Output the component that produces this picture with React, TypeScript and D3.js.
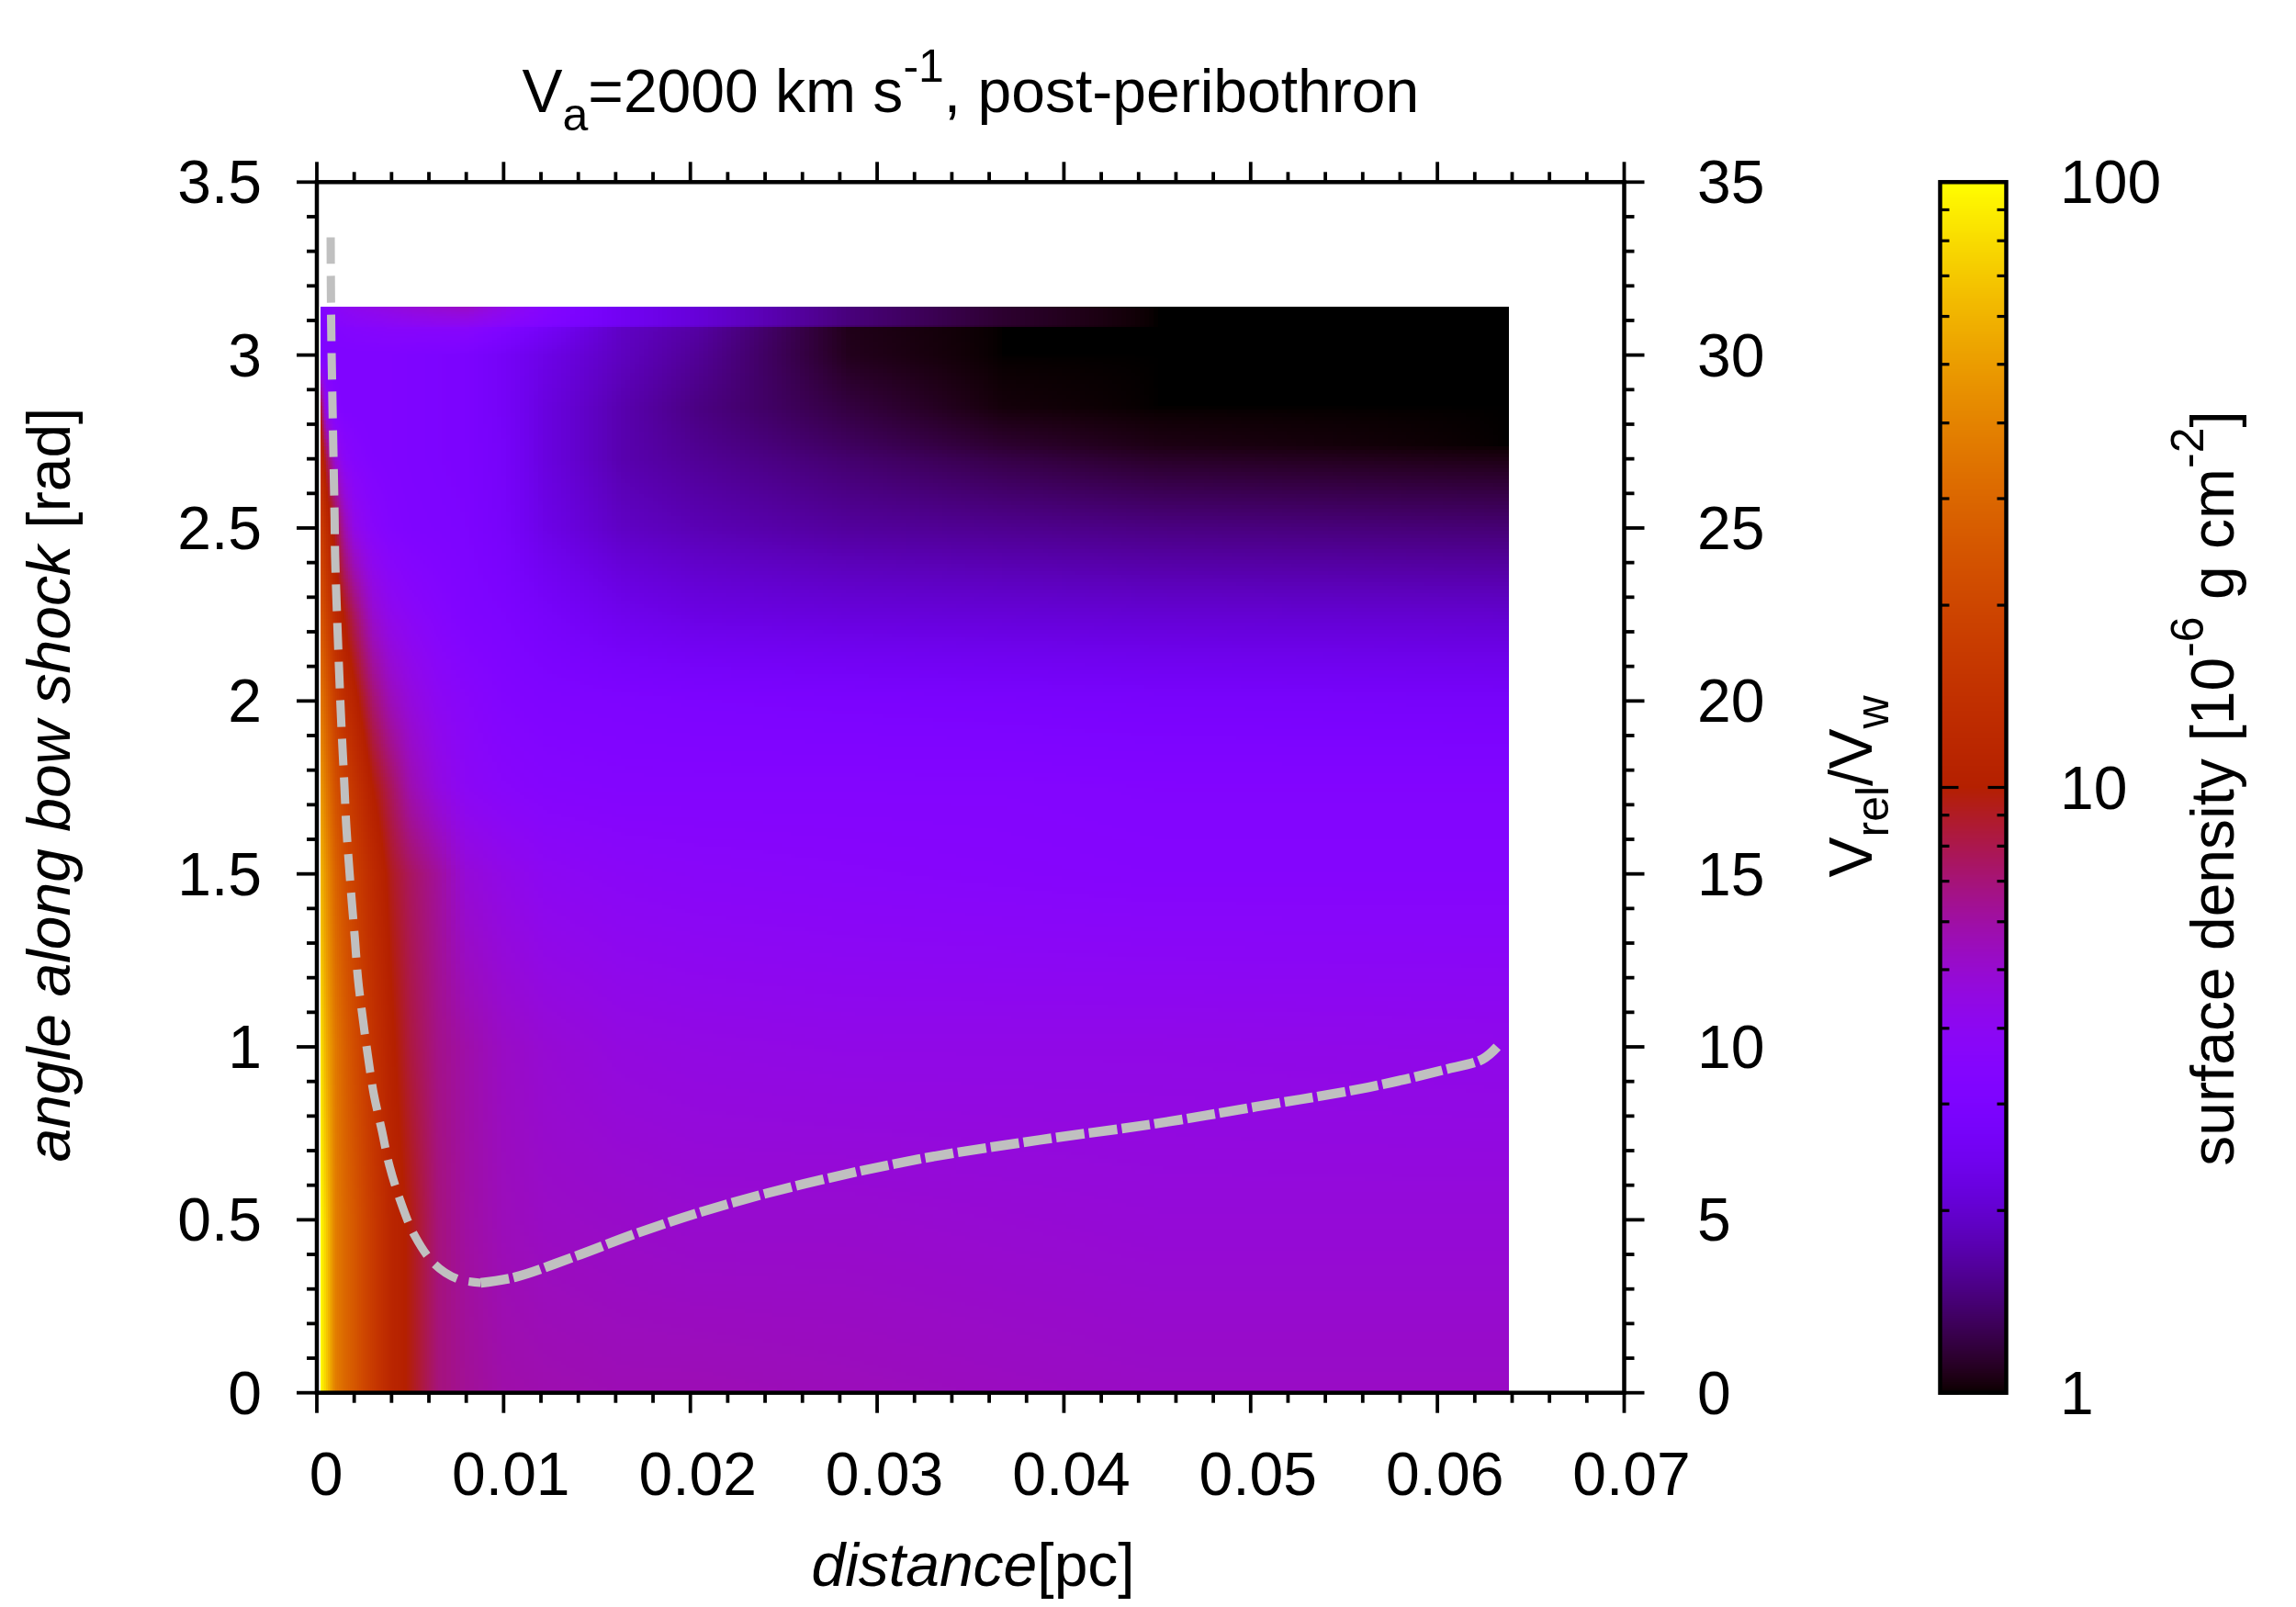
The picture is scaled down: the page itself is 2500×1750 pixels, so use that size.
import React, { useEffect, useRef } from "react";
import * as d3 from "d3";

// ---- axis ticks ----
const xMajor = [0, 0.01, 0.02, 0.03, 0.04, 0.05, 0.06, 0.07];
const xLabels = ["0", "0.01", "0.02", "0.03", "0.04", "0.05", "0.06", "0.07"];
const yMajor = [0, 0.5, 1, 1.5, 2, 2.5, 3, 3.5];
const yLabels = ["0", "0.5", "1", "1.5", "2", "2.5", "3", "3.5"];
const y2Major = [0, 5, 10, 15, 20, 25, 30, 35];
const cbMajor = [1, 10, 100];
const cbMinor = [2, 3, 4, 5, 6, 7, 8, 9, 20, 30, 40, 50, 60, 70, 80, 90];

// ---- dashed curve: distance [pc] vs Vrel/Vw ----
const curveDistDown = [0.00074, 0.00077, 0.00095, 0.00098, 0.00128, 0.00148, 0.00157, 0.00171, 0.00187, 0.00204, 0.0022, 0.00245, 0.00273, 0.00305, 0.00347, 0.00387, 0.00445, 0.00522, 0.00632, 0.00754, 0.00877];
const curveVelDown = [33.4, 30.8, 25.3, 24.15, 19.7, 17.5, 16.43, 15.33, 14.2, 13.1, 11.98, 10.86, 9.75, 8.63, 7.61, 6.6, 5.58, 4.56, 3.71, 3.29, 3.18];
const curveDistUp = [0.00877, 0.0106, 0.01387, 0.01712, 0.0212, 0.0261, 0.0322, 0.0387, 0.0448, 0.0503, 0.0563, 0.0603, 0.0624, 0.0632];
const curveVelUp = [3.18, 3.34, 3.95, 4.61, 5.33, 6.04, 6.75, 7.31, 7.77, 8.27, 8.83, 9.33, 9.64, 10.0];

// ---- surface density grid: log10(sigma) at sampled distances and angles ----
const gridDist = [0.0002, 0.0005, 0.001, 0.0015, 0.002, 0.003, 0.004, 0.005, 0.0065, 0.008, 0.01, 0.0122, 0.0163, 0.0204, 0.0285, 0.0367, 0.045, 0.0638];
const gridAngle = [0, 0.5, 1, 1.5, 1.75, 2, 2.25, 2.5, 2.7, 2.74, 2.85, 3, 3.08, 3.085, 3.14];
const logA000 = [2.0, 1.86, 1.58, 1.48, 1.4, 1.22, 1.06, 0.98, 0.84, 0.8, 0.77, 0.76, 0.75, 0.75, 0.74, 0.73, 0.72, 0.72];
const logA050 = [2.0, 1.86, 1.58, 1.48, 1.4, 1.22, 1.06, 0.98, 0.84, 0.78, 0.74, 0.72, 0.71, 0.7, 0.7, 0.69, 0.68, 0.68];
const logA100 = [1.94, 1.76, 1.56, 1.44, 1.34, 1.17, 1.02, 0.92, 0.82, 0.77, 0.72, 0.69, 0.66, 0.65, 0.64, 0.64, 0.64, 0.63];
const logA150 = [1.8, 1.66, 1.46, 1.34, 1.26, 1.1, 0.96, 0.88, 0.79, 0.68, 0.64, 0.6, 0.58, 0.57, 0.56, 0.55, 0.54, 0.54];
const logA175 = [1.7, 1.56, 1.36, 1.26, 1.18, 1.0, 0.88, 0.76, 0.66, 0.59, 0.56, 0.54, 0.53, 0.53, 0.53, 0.53, 0.52, 0.52];
const logA200 = [1.56, 1.44, 1.24, 1.12, 1.04, 0.86, 0.74, 0.67, 0.6, 0.56, 0.52, 0.5, 0.49, 0.48, 0.47, 0.46, 0.45, 0.44];
const logA225 = [1.4, 1.28, 1.1, 0.98, 0.88, 0.7, 0.62, 0.58, 0.54, 0.5, 0.48, 0.44, 0.38, 0.35, 0.33, 0.32, 0.31, 0.3];
const logA250 = [1.26, 1.12, 0.94, 0.76, 0.64, 0.56, 0.52, 0.5, 0.49, 0.48, 0.44, 0.36, 0.28, 0.25, 0.21, 0.19, 0.17, 0.15];
const logA270 = [1.12, 0.92, 0.68, 0.58, 0.54, 0.51, 0.5, 0.49, 0.48, 0.47, 0.43, 0.34, 0.24, 0.2, 0.14, 0.09, 0.05, 0.024];
const logA274 = [1.08, 0.84, 0.62, 0.56, 0.53, 0.505, 0.5, 0.49, 0.48, 0.47, 0.43, 0.34, 0.24, 0.19, 0.12, 0.06, 0.024, 0];
const logA285 = [0.96, 0.6, 0.52, 0.5, 0.5, 0.5, 0.5, 0.49, 0.48, 0.47, 0.42, 0.34, 0.24, 0.17, 0.08, 0.012, 0, 0];
const logA300 = [0.5, 0.5, 0.5, 0.5, 0.5, 0.5, 0.5, 0.49, 0.48, 0.47, 0.42, 0.36, 0.27, 0.2, 0.035, 0, 0, 0];
const logA308 = [0.5, 0.5, 0.52, 0.53, 0.54, 0.55, 0.56, 0.56, 0.56, 0.56, 0.5, 0.42, 0.28, 0.22, 0.03, 0, 0, 0];
const logA3085 = [0.5, 0.52, 0.54, 0.55, 0.56, 0.57, 0.58, 0.59, 0.6, 0.6, 0.56, 0.5, 0.4, 0.32, 0.16, 0.06, 0, 0];
const logA314 = [0.5, 0.54, 0.58, 0.6, 0.62, 0.64, 0.66, 0.68, 0.7, 0.72, 0.64, 0.54, 0.4, 0.32, 0.16, 0.06, 0, 0];
const gridLog = [logA000, logA050, logA100, logA150, logA175, logA200, logA225, logA250, logA270, logA274, logA285, logA300, logA308, logA3085, logA314];

const FONT = "'Liberation Sans', Arial, Helvetica, sans-serif";
const FS = 66;
const SUB = 50;

const xScale = d3.scaleLinear().domain([0, 0.07]).range([345, 1768.5]);
const yScale = d3.scaleLinear().domain([0, 3.5]).range([1516.7, 198.3]);
const y2Scale = d3.scaleLinear().domain([0, 35]).range([1516.7, 198.3]);
const cbScale = d3.scaleLog().domain([1, 100]).range([1516.7, 198.3]);
const cbFrac = d3.scaleLog().domain([1, 100]).range([0, 1]).clamp(true);

// gnuplot's default palette (rgbformulae 7,5,15)
function palette(t: number): string {
  const r = Math.sqrt(t);
  const g = t * t * t;
  const b = Math.max(0, Math.sin(2 * Math.PI * t));
  return d3.rgb(255 * r, 255 * g, 255 * b).formatHex();
}

function sampleLog(dist: number, angle: number): number {
  const i = Math.min(gridDist.length - 2, Math.max(0, d3.bisectRight(gridDist, dist) - 1));
  const j = Math.min(gridAngle.length - 2, Math.max(0, d3.bisectRight(gridAngle, angle) - 1));
  const u = Math.min(1, Math.max(0, (dist - gridDist[i]) / (gridDist[i + 1] - gridDist[i])));
  const v = Math.min(1, Math.max(0, (angle - gridAngle[j]) / (gridAngle[j + 1] - gridAngle[j])));
  const a = d3.interpolateNumber(gridLog[j][i], gridLog[j][i + 1])(u);
  const b = d3.interpolateNumber(gridLog[j + 1][i], gridLog[j + 1][i + 1])(u);
  return d3.interpolateNumber(a, b)(v);
}

function curvePath(ds: number[], vs: number[]) {
  const g = d3
    .line<[number, number]>()
    .x((p) => xScale(p[0]))
    .y((p) => y2Scale(p[1]))
    .curve(d3.curveCatmullRom.alpha(0.5));
  return g(ds.map((d, i) => [d, vs[i]] as [number, number])) || "";
}

const CB_L = 2112.5;
const CB_R = 2184.5;

export default function App() {
  const heatRef = useRef<SVGGElement>(null);
  const cbRef = useRef<SVGGElement>(null);

  useEffect(() => {
    const x0 = xScale(gridDist[0]);
    const x1 = xScale(gridDist[gridDist.length - 1]);
    const yTop = yScale(3.14);
    const yBot = yScale(0);
    const cols: [number, number][] = [];
    let px = x0;
    while (px < x1) {
      const w = px < 480 ? 2 : 5;
      cols.push([px, Math.min(w, x1 - px)]);
      px += w;
    }
    const rows: [number, number][] = [];
    let py = yTop;
    while (py < yBot) {
      const h = py < 400 ? 2 : 4;
      rows.push([py, Math.min(h, yBot - py)]);
      py += h;
    }
    const cells: { x: number; y: number; w: number; h: number; c: string }[] = [];
    for (const [cx, cw] of cols) {
      for (const [cy, ch] of rows) {
        const l = sampleLog(xScale.invert(cx + cw / 2), yScale.invert(cy + ch / 2));
        cells.push({ x: cx, y: cy, w: cw + 0.3, h: ch + 0.3, c: palette(cbFrac(Math.pow(10, l))) });
      }
    }
    const heat = d3.select(heatRef.current);
    heat.selectAll("*").remove();
    heat
      .selectAll("rect")
      .data(cells)
      .join("rect")
      .attr("x", (d) => d.x)
      .attr("y", (d) => d.y)
      .attr("width", (d) => d.w)
      .attr("height", (d) => d.h)
      .attr("fill", (d) => d.c)
      .attr("shape-rendering", "crispEdges");

    const cb = d3.select(cbRef.current);
    cb.selectAll("*").remove();
    const steps = d3.range(0, 660);
    cb.selectAll("rect")
      .data(steps)
      .join("rect")
      .attr("x", CB_L)
      .attr("width", CB_R - CB_L)
      .attr("y", (i) => 198.3 + (i * 1318.4) / 660)
      .attr("height", 1318.4 / 660 + 0.5)
      .attr("fill", (i) => palette(1 - (i + 0.5) / 660))
      .attr("shape-rendering", "crispEdges");
  }, []);

  const L = xScale(0);
  const R = xScale(0.07);
  const T = yScale(3.5);
  const B = yScale(0);
  const xMinor = d3.range(0, 36).map((i) => i * 0.002).filter((v) => !xMajor.some((m) => Math.abs(m - v) < 1e-9));
  const yMinor = d3.range(0, 36).map((i) => i * 0.1).filter((v) => !yMajor.some((m) => Math.abs(m - v) < 1e-9));

  return (
    <svg
      width={2500}
      height={1750}
      viewBox="0 0 2500 1750"
      style={{ position: "absolute", left: 0, top: 0, background: "#fff" }}
      fontFamily={FONT}
      fontSize={FS}
      fill="#000"
    >
      <g ref={heatRef} />
      <path d={curvePath(curveDistDown, curveVelDown)} fill="none" stroke="#c0c0c0" strokeWidth={9} strokeDasharray="29 13" />
      <path d={curvePath(curveDistUp, curveVelUp)} fill="none" stroke="#c0c0c0" strokeWidth={10.5} strokeDasharray="31 5" />

      {/* plot frame */}
      <rect x={L} y={T} width={R - L} height={B - T} fill="none" stroke="#000" strokeWidth={4.5} />
      <g stroke="#000" strokeWidth={3.8}>
        {xMajor.map((v) => (
          <g key={"xm" + v}>
            <line x1={xScale(v)} x2={xScale(v)} y1={B} y2={B + 22} />
            <line x1={xScale(v)} x2={xScale(v)} y1={T} y2={T - 22} />
          </g>
        ))}
        {xMinor.map((v) => (
          <g key={"xn" + v}>
            <line x1={xScale(v)} x2={xScale(v)} y1={B} y2={B + 11} />
            <line x1={xScale(v)} x2={xScale(v)} y1={T} y2={T - 11} />
          </g>
        ))}
        {yMajor.map((v) => (
          <line key={"yl" + v} x1={L} x2={L - 22} y1={yScale(v)} y2={yScale(v)} />
        ))}
        {yMinor.map((v) => (
          <g key={"yn" + v}>
            <line x1={L} x2={L - 11} y1={yScale(v)} y2={yScale(v)} />
            <line x1={R} x2={R + 11} y1={yScale(v)} y2={yScale(v)} />
          </g>
        ))}
        {y2Major.map((v) => (
          <line key={"yr" + v} x1={R} x2={R + 22} y1={y2Scale(v)} y2={y2Scale(v)} />
        ))}
      </g>

      {/* tick labels */}
      {xMajor.map((v, i) => (
        <text key={"xt" + v} x={xScale(v) + (v === 0 ? 10 : 8)} y={1628} textAnchor="middle">
          {xLabels[i]}
        </text>
      ))}
      {yMajor.map((v, i) => (
        <text key={"yt" + v} x={285} y={yScale(v) + 23} textAnchor="end">
          {yLabels[i]}
        </text>
      ))}
      {y2Major.map((v) => (
        <text key={"y2t" + v} x={1848} y={y2Scale(v) + 23}>
          {v}
        </text>
      ))}

      {/* title */}
      <text x={568.5} y={121.7}>
        V
        <tspan fontSize={SUB} dy={20}>a</tspan>
        <tspan dy={-20}>=2000 km s</tspan>
        <tspan fontSize={SUB} dy={-33}>-1</tspan>
        <tspan dy={33}>, post-peribothron</tspan>
      </text>

      {/* axis titles */}
      <text x={883.5} y={1726.7}>
        <tspan fontStyle="italic">distance</tspan>[pc]
      </text>
      <text transform="translate(76,854.5) rotate(-90)" textAnchor="middle">
        <tspan fontStyle="italic">angle along bow shock</tspan> [rad]
      </text>
      <text transform="translate(2038,856.5) rotate(-90)" textAnchor="middle">
        V<tspan fontSize={SUB} dy={18}>rel</tspan>
        <tspan dy={-18}>/V</tspan>
        <tspan fontSize={SUB} dy={18}>w</tspan>
      </text>
      <text transform="translate(2432,858.5) rotate(-90)" textAnchor="middle">
        surface density [10
        <tspan fontSize={SUB} dy={-33}>-6</tspan>
        <tspan dy={33}> g cm</tspan>
        <tspan fontSize={SUB} dy={-33}>-2</tspan>
        <tspan dy={33}>]</tspan>
      </text>

      {/* colour bar */}
      <g ref={cbRef} />
      <rect x={CB_L} y={T} width={CB_R - CB_L} height={B - T} fill="none" stroke="#000" strokeWidth={4.5} />
      <g stroke="#000" strokeWidth={3.2}>
        {cbMajor.map((v) => (
          <g key={"cbm" + v}>
            <line x1={CB_L} x2={CB_L + 20} y1={cbScale(v)} y2={cbScale(v)} />
            <line x1={CB_R} x2={CB_R - 20} y1={cbScale(v)} y2={cbScale(v)} />
          </g>
        ))}
        {cbMinor.map((v) => (
          <g key={"cbn" + v}>
            <line x1={CB_L} x2={CB_L + 10} y1={cbScale(v)} y2={cbScale(v)} />
            <line x1={CB_R} x2={CB_R - 10} y1={cbScale(v)} y2={cbScale(v)} />
          </g>
        ))}
      </g>
      {cbMajor.map((v) => (
        <text key={"cbt" + v} x={2243} y={cbScale(v) + 23}>
          {v}
        </text>
      ))}
    </svg>
  );
}
